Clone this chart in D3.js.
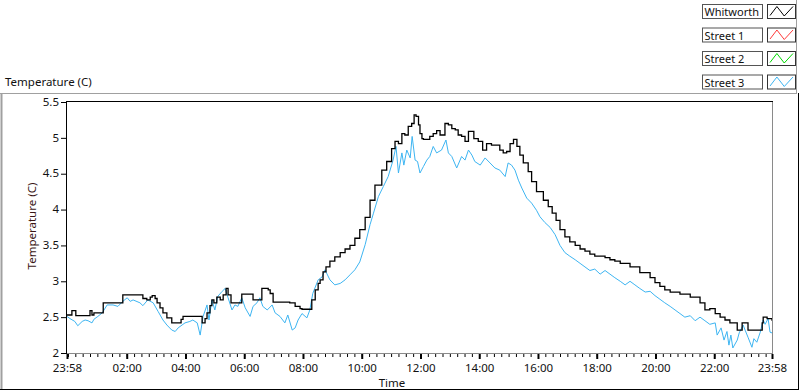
<!DOCTYPE html>
<html>
<head>
<meta charset="utf-8">
<script src="https://cdn.jsdelivr.net/npm/d3@7"></script>
<style>
  html, body { margin: 0; padding: 0; background: #fff; }
  svg { display: block; }
  text { font-family: "Noto Sans", "DejaVu Sans", sans-serif; }
</style>
</head>
<body>
<svg id="chart" width="800" height="392"></svg>
<script>
// ---------------- DATA ----------------
const seriesNames = ["Whitworth", "Street 1", "Street 2", "Street 3"];
const seriesColors = ["#000000", "#ff3a3a", "#00d800", "#3db5f2"];

// minutes elapsed since 23:58 (start of the window)
const whitworthMinutes = [0,10,18,43,47,51,55,61,74,112,114,149,155,163,170,174,180,184,190,196,204,214,231,233,237,272,276,282,286,292,296,300,306,313,319,325,329,335,355,357,378,380,396,398,411,415,421,455,466,476,480,496,500,507,513,517,523,529,537,547,558,568,578,588,598,609,619,629,643,653,663,670,677,684,690,697,704,709,713,718,721,725,728,741,748,755,762,772,779,786,793,799,806,813,820,827,831,840,849,857,867,878,884,891,898,905,912,919,925,932,942,949,959,973,983,991,999,1007,1017,1027,1038,1048,1058,1068,1078,1099,1109,1119,1130,1150,1170,1191,1201,1211,1221,1232,1252,1273,1293,1303,1313,1324,1334,1344,1354,1366,1369,1377,1379,1389,1391,1418,1420,1422,1430,1440];
const whitworthValues = [2.53,2.59,2.52,2.52,2.59,2.53,2.56,2.56,2.70,2.70,2.81,2.81,2.76,2.74,2.78,2.80,2.76,2.70,2.63,2.56,2.49,2.42,2.42,2.47,2.51,2.51,2.42,2.48,2.56,2.66,2.74,2.70,2.78,2.74,2.81,2.90,2.81,2.70,2.70,2.82,2.82,2.74,2.74,2.90,2.88,2.83,2.71,2.70,2.65,2.62,2.61,2.61,2.74,2.88,2.97,3.02,3.13,3.20,3.28,3.34,3.40,3.45,3.50,3.60,3.72,3.89,4.13,4.34,4.55,4.67,4.85,4.95,4.92,5.06,5.04,5.16,5.20,5.32,5.30,5.18,5.06,4.99,4.98,5.02,5.06,5.10,5.04,5.20,5.18,5.13,5.11,5.04,5.02,4.95,5.09,5.09,4.99,4.95,4.83,4.92,4.90,4.90,4.83,4.79,4.81,4.92,4.98,4.88,4.76,4.65,4.53,4.39,4.25,4.13,4.04,3.95,3.85,3.72,3.62,3.55,3.50,3.45,3.42,3.38,3.35,3.33,3.30,3.28,3.25,3.20,3.12,3.05,2.98,2.93,2.88,2.85,2.82,2.78,2.70,2.60,2.62,2.55,2.50,2.46,2.42,2.42,2.32,2.32,2.42,2.42,2.32,2.32,2.42,2.50,2.48,2.45];

const street1Minutes = [];
const street1Values = [];
const street2Minutes = [];
const street2Values = [];

const street3Minutes = [0,6,16,22,31,37,43,51,55,63,72,82,94,104,114,123,129,135,149,155,165,176,186,196,204,214,221,227,235,241,251,257,266,272,278,286,290,296,302,308,317,323,329,337,343,349,357,364,374,380,388,394,400,409,419,425,435,445,451,460,466,472,480,490,496,502,513,521,527,537,547,558,568,578,588,598,609,619,626,636,646,656,666,672,677,684,688,694,701,705,711,716,721,728,735,741,748,755,765,774,779,786,796,806,813,820,827,833,844,854,864,874,884,895,901,908,915,922,929,939,949,959,966,976,987,997,1007,1017,1027,1038,1048,1058,1068,1078,1089,1099,1109,1119,1130,1140,1150,1160,1170,1181,1191,1201,1211,1221,1232,1242,1252,1262,1273,1283,1293,1303,1313,1324,1328,1336,1342,1348,1352,1356,1360,1369,1373,1381,1385,1391,1399,1403,1409,1416,1422,1426,1432,1436,1440];
const street3Values = [2.51,2.48,2.44,2.38,2.44,2.46,2.45,2.42,2.47,2.51,2.56,2.67,2.67,2.65,2.72,2.77,2.72,2.74,2.70,2.66,2.74,2.70,2.58,2.46,2.39,2.32,2.30,2.35,2.39,2.42,2.44,2.46,2.42,2.25,2.51,2.67,2.46,2.74,2.60,2.79,2.86,2.90,2.77,2.60,2.67,2.65,2.77,2.63,2.51,2.65,2.70,2.77,2.65,2.60,2.67,2.56,2.51,2.42,2.53,2.32,2.35,2.46,2.55,2.49,2.60,2.83,3.02,3.06,3.16,3.02,2.95,2.97,3.02,3.09,3.16,3.27,3.51,3.79,3.95,4.18,4.32,4.46,4.69,4.88,4.51,4.79,4.62,4.83,4.72,5.02,4.69,4.67,4.51,4.60,4.69,4.74,4.88,4.79,4.83,4.97,4.79,4.74,4.58,4.74,4.69,4.83,4.76,4.67,4.62,4.72,4.65,4.58,4.55,4.46,4.65,4.62,4.55,4.41,4.30,4.16,4.09,3.99,3.90,3.82,3.75,3.65,3.50,3.40,3.35,3.30,3.25,3.20,3.15,3.17,3.10,3.15,3.10,3.05,3.00,2.95,3.00,2.95,2.90,2.85,2.86,2.80,2.75,2.70,2.65,2.60,2.55,2.50,2.52,2.45,2.50,2.45,2.40,2.42,2.25,2.35,2.18,2.30,2.11,2.25,2.07,2.18,2.28,2.39,2.32,2.22,2.08,2.20,2.15,2.29,2.46,2.40,2.48,2.29,2.28];

const yTicks = [2, 2.5, 3, 3.5, 4, 4.5, 5, 5.5];
const xTickLabels = ["23:58","02:00","04:00","06:00","08:00","10:00","12:00","14:00","16:00","18:00","20:00","22:00","23:58"];
const chartTitle = "Temperature (C)";
const yAxisTitle = "Temperature (C)";
const xAxisTitle = "Time";

// ---------------- LAYOUT ----------------
const svg = d3.select("#chart");
const W = 800, H = 392;
const plot = { left: 67, right: 772, top: 102, bottom: 353 };
const FS = 11.5;

svg.append("rect").attr("width", W).attr("height", H).attr("fill", "#fff");

const start = new Date(2000, 0, 1, 23, 58);
const end = d3.timeMinute.offset(start, 1440);
const x = d3.scaleTime().domain([start, end]).range([plot.left, plot.right]);
const y = d3.scaleLinear().domain([2, 5.5]).range([plot.bottom, plot.top]);

// outer frame
svg.append("line").attr("x1", 0).attr("x2", 797).attr("y1", 93.5).attr("y2", 93.5).attr("stroke", "#a0a0a0");
svg.append("line").attr("x1", 1.5).attr("x2", 1.5).attr("y1", 93).attr("y2", 389).attr("stroke", "#a0a0a0").attr("stroke-width", 2);
svg.append("line").attr("x1", 0).attr("x2", 799).attr("y1", 389.5).attr("y2", 389.5).attr("stroke", "#000");
svg.append("line").attr("x1", 798.5).attr("x2", 798.5).attr("y1", 93).attr("y2", 390).attr("stroke", "#000");
svg.append("line").attr("x1", 796.5).attr("x2", 796.5).attr("y1", 0).attr("y2", 94).attr("stroke", "#a0a0a0");

// title
svg.append("text").attr("x", 5).attr("y", 86).attr("font-size", FS).attr("fill", "#111").text(chartTitle);

// legend
const legendRowY = [4.5, 28, 51.5, 75];
const lg = svg.append("g");
seriesNames.forEach((name, i) => {
  const g = lg.append("g").attr("transform", `translate(0,${legendRowY[i]})`);
  g.append("rect").attr("x", 702.5).attr("y", 0).attr("width", 60).attr("height", 14)
    .attr("fill", "#fff").attr("stroke", "#555");
  g.append("text").attr("x", 704.5).attr("y", 11.5).attr("font-size", 11).attr("fill", "#111").text(name);
  g.append("rect").attr("x", 767.5).attr("y", 0).attr("width", 28).attr("height", 14)
    .attr("fill", "#fff").attr("stroke", "#333");
  const sx = d3.scaleLinear().domain([0, 1]).range([770, 793]);
  const sy = d3.scaleLinear().domain([0, 1]).range([12, 2]);
  g.append("path")
    .attr("d", d3.line().x(d => sx(d[0])).y(d => sy(d[1]))([[0, 0.1], [0.3, 1], [0.62, 0.05], [1, 1]]))
    .attr("fill", "none").attr("stroke", seriesColors[i]).attr("stroke-width", 1);
});

// plot frame
svg.append("line").attr("x1", plot.right + 0.5).attr("x2", plot.right + 0.5).attr("y1", plot.top).attr("y2", plot.bottom + 1).attr("stroke", "#8a8a8a");
svg.append("line").attr("x1", plot.left).attr("x2", plot.right).attr("y1", plot.bottom + 0.5).attr("y2", plot.bottom + 0.5).attr("stroke", "#8a8a8a");
svg.append("line").attr("x1", plot.left - 0.5).attr("x2", plot.right + 1).attr("y1", plot.top - 0.5).attr("y2", plot.top - 0.5).attr("stroke", "#000");
svg.append("line").attr("x1", plot.left - 0.5).attr("x2", plot.left - 0.5).attr("y1", plot.top - 1).attr("y2", plot.bottom + 1).attr("stroke", "#000");

// y axis
const yAxis = svg.append("g").attr("transform", `translate(${plot.left - 1},0)`)
  .call(d3.axisLeft(y).tickValues(yTicks).tickFormat(d3.format("")).tickSize(5).tickPadding(2));
yAxis.select(".domain").remove();
yAxis.selectAll("text").attr("font-size", FS).attr("fill", "#111").attr("font-family", "Noto Sans")
  .attr("dy", "0.28em");

// x axis minor ticks
const minorTicks = d3.timeMinute.every(15).range(d3.timeMinute.offset(start, 2), end);
const xMinor = svg.append("g").attr("transform", `translate(0,${plot.bottom + 1})`)
  .call(d3.axisBottom(x).tickValues(minorTicks).tickSize(3).tickFormat(""));
xMinor.select(".domain").remove();
xMinor.selectAll(".tick line").attr("stroke", "#000");

// x axis major ticks + labels
const majorTicks = [start].concat(d3.range(1, 12).map(k => new Date(2000, 0, 2, 2 * k, 0)), [end]);
const xAxis = svg.append("g").attr("transform", `translate(0,${plot.bottom + 1})`)
  .call(d3.axisBottom(x).tickValues(majorTicks).tickSize(5).tickPadding(5)
    .tickFormat((d, i) => xTickLabels[i]));
xAxis.select(".domain").remove();
xAxis.selectAll(".tick line").attr("stroke", "#000").attr("stroke-width", 2);
xAxis.selectAll("text").attr("font-size", FS).attr("fill", "#111").attr("font-family", "Noto Sans");

// axis titles
svg.append("text").attr("x", 392).attr("y", 387).attr("text-anchor", "middle").attr("font-size", FS).attr("fill", "#111").text(xAxisTitle);
svg.append("text").attr("transform", "translate(36,226) rotate(-90)").attr("text-anchor", "middle")
  .attr("font-size", FS).attr("fill", "#3a1616").text(yAxisTitle);

// clip
svg.append("clipPath").attr("id", "clip").append("rect")
  .attr("x", plot.left).attr("y", plot.top).attr("width", plot.right - plot.left).attr("height", plot.bottom - plot.top);

const toPts = (mins, vals) => mins.map((m, i) => [d3.timeMinute.offset(start, m), vals[i]]);
const plotG = svg.append("g").attr("clip-path", "url(#clip)");

const series = [
  { pts: toPts(street3Minutes, street3Values), color: seriesColors[3], w: 1, curve: d3.curveLinear },
  { pts: toPts(street2Minutes, street2Values), color: seriesColors[2], w: 1, curve: d3.curveLinear },
  { pts: toPts(street1Minutes, street1Values), color: seriesColors[1], w: 1, curve: d3.curveLinear },
  { pts: toPts(whitworthMinutes, whitworthValues), color: seriesColors[0], w: 1.3, curve: d3.curveStepAfter }
];
series.forEach(s => {
  if (!s.pts.length) return;
  plotG.append("path")
    .attr("d", d3.line().x(d => x(d[0])).y(d => y(d[1])).curve(s.curve)(s.pts))
    .attr("fill", "none").attr("stroke", s.color).attr("stroke-width", s.w);
});
</script>
</body>
</html>
